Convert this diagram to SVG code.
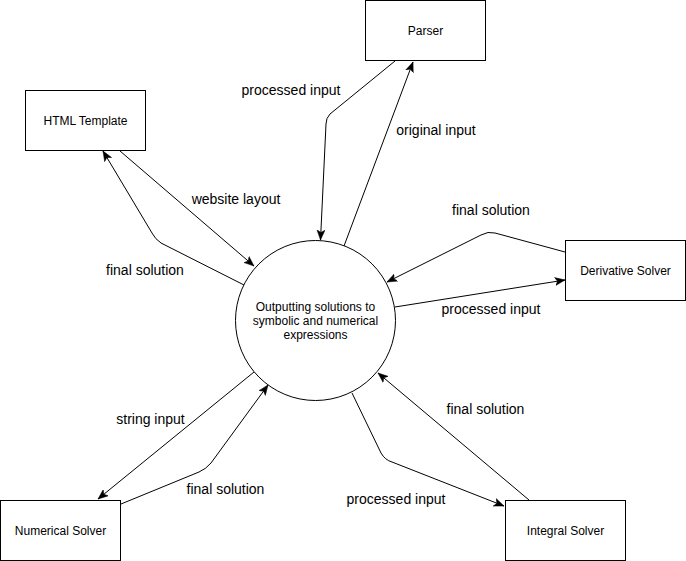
<svg xmlns="http://www.w3.org/2000/svg" width="686" height="561" viewBox="0 0 686 561">
<style>
.box{fill:#fff;stroke:#000;stroke-width:1}
.nt{font-family:"Liberation Sans",Arial,sans-serif;font-size:12px;fill:#000;text-anchor:middle}
.lb{font-family:"Liberation Sans",Arial,sans-serif;font-size:14px;fill:#000;text-anchor:middle}
.e{fill:none;stroke:#000;stroke-width:1;marker-end:url(#arr)}
</style>
<defs>
<marker id="arr" markerUnits="userSpaceOnUse" markerWidth="11" markerHeight="9" refX="10" refY="4.5" orient="auto">
<path d="M0,0.5 L10,4.5 L0,8.5 L2.5,4.5 Z" fill="#000" stroke="#000" stroke-width="0.5"/>
</marker>
</defs>
<rect width="686" height="561" fill="#fff"/>
<g id="connectors">
<path class="e" d="M395,61 L330,114 Q326,118 326,124 L320.5,240"/>
<path class="e" d="M344,246 L413,62"/>
<path class="e" d="M120,151 L254,266"/>
<path class="e" d="M244,285 L161,243 Q155,239 152,233 L103,151"/>
<path class="e" d="M565,252 L495,233 Q488,231 481,235 L387,282"/>
<path class="e" d="M395,307 L565,280"/>
<path class="e" d="M254,372 L98,499"/>
<path class="e" d="M121,504 L199,472 Q206,469 211,463 L268,385"/>
<path class="e" d="M352,393 L381,453 Q385,460 392,462 L504,506"/>
<path class="e" d="M529,500 L378,373"/>
</g>
<g id="labels">
<text class="lb" x="291" y="95">processed input</text>
<text class="lb" x="436" y="135">original input</text>
<text class="lb" x="236" y="204">website layout</text>
<text class="lb" x="145" y="275">final solution</text>
<text class="lb" x="491" y="215">final solution</text>
<text class="lb" x="491" y="314">processed input</text>
<text class="lb" x="150.5" y="424">string input</text>
<text class="lb" x="225.5" y="494">final solution</text>
<text class="lb" x="485.5" y="414">final solution</text>
<text class="lb" x="396" y="504">processed input</text>
</g>
<g id="parser">
<rect class="box" x="365.5" y="0.5" width="120" height="60"/>
<text class="nt" x="425.5" y="35">Parser</text>
</g>
<g id="html-template">
<rect class="box" x="25.5" y="90.5" width="120" height="60"/>
<text class="nt" x="85.5" y="125">HTML Template</text>
</g>
<g id="derivative-solver">
<rect class="box" x="565.5" y="240.5" width="120" height="60"/>
<text class="nt" x="625.5" y="275">Derivative Solver</text>
</g>
<g id="numerical-solver">
<rect class="box" x="0.5" y="500.5" width="120" height="60"/>
<text class="nt" x="60.5" y="535">Numerical Solver</text>
</g>
<g id="integral-solver">
<rect class="box" x="505.5" y="500.5" width="120" height="60"/>
<text class="nt" x="565.5" y="535">Integral Solver</text>
</g>
<g id="center-process">
<circle class="box" cx="315.5" cy="320.5" r="80"/>
<text class="nt" x="315.5" y="311">Outputting solutions to</text>
<text class="nt" x="315.5" y="325">symbolic and numerical</text>
<text class="nt" x="315.5" y="339">expressions</text>
</g>
</svg>
